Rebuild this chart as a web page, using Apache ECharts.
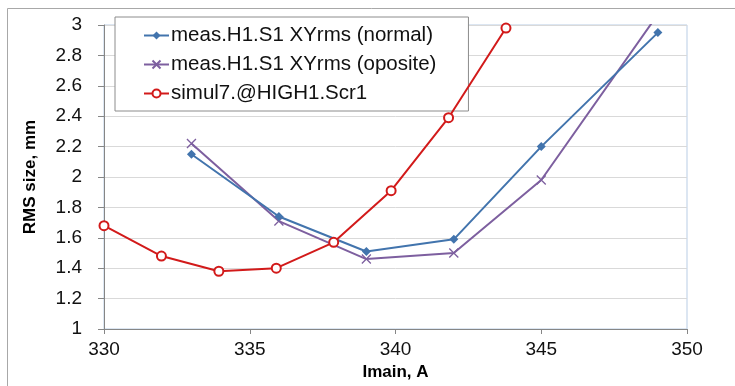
<!DOCTYPE html>
<html>
<head>
<meta charset="utf-8">
<script src="https://cdn.jsdelivr.net/npm/echarts@6/dist/echarts.min.js"></script>
<style>
  html, body { margin: 0; padding: 0; background: #ffffff; }
  #chart { width: 735px; height: 386px; }
</style>
</head>
<body>
<div id="chart"></div>
<script>
// Beam RMS size versus main magnet current
const currentMeas = [333, 336, 339, 342, 345, 349];
const rmsNormal   = [2.15, 1.74, 1.51, 1.59, 2.20, 2.95];
const rmsOpposite = [2.22, 1.71, 1.46, 1.50, 1.98, 3.07];

const currentSim = [330, 331.97, 333.94, 335.91, 337.88, 339.85, 341.82, 343.79];
const rmsSim     = [1.68, 1.48, 1.38, 1.40, 1.57, 1.91, 2.39, 2.98];

const seriesNames = [
  'meas.H1.S1 XYrms (normal)',
  'meas.H1.S1 XYrms (oposite)',
  'simul7.@HIGH1.Scr1'
];

const xTicks = { min: 330, max: 350, step: 5 };
const yTicks = { min: 1, max: 3, step: 0.2 };

const pairs = (xs, ys) => xs.map((x, i) => [x, ys[i]]);

const FONT = "'Liberation Sans', Arial, sans-serif";
const BLUE = '#4274AD';
const PURPLE = '#7D5F9F';
const RED = '#D21A1A';
const CROSS = 'path://M0,0L10,10M10,0L0,10';

const chart = echarts.init(document.getElementById('chart'), null, { renderer: 'canvas' });

chart.setOption({
  animation: false,
  backgroundColor: '#ffffff',
  graphic: [{
    type: 'rect',
    shape: { x: 7.5, y: 8.5, width: 900, height: 500 },
    style: { fill: 'none', stroke: '#A8A8A8', lineWidth: 1 },
    silent: true,
    z: -10
  }],
  grid: {
    left: 104, right: 48, top: 25, bottom: 48,
    show: true,
    borderColor: '#B9CDE5',
    borderWidth: 1,
    backgroundColor: 'transparent'
  },
  legend: {
    orient: 'vertical',
    left: 115, top: 17,
    padding: [8, 32, 7, 28],
    itemGap: 8,
    itemWidth: 25,
    itemHeight: 10,
    backgroundColor: '#ffffff',
    borderColor: '#8C8C8C',
    borderWidth: 1,
    textStyle: { fontFamily: FONT, fontSize: 20.5, color: '#111', padding: [0, 0, 0, -3] },
    data: seriesNames
  },
  xAxis: {
    type: 'value',
    min: xTicks.min, max: xTicks.max, interval: xTicks.step,
    name: 'Imain, A',
    nameLocation: 'middle',
    nameGap: 35,
    nameTextStyle: { fontFamily: FONT, fontSize: 17, fontWeight: 'bold', color: '#000' },
    axisLine: { show: true, onZero: false, lineStyle: { color: '#868686', width: 1 } },
    axisTick: { show: true, inside: false, length: 5, lineStyle: { color: '#868686' } },
    axisLabel: { margin: 11, fontFamily: FONT, fontSize: 19, color: '#111' },
    splitLine: { show: false }
  },
  yAxis: {
    type: 'value',
    min: yTicks.min, max: yTicks.max, interval: yTicks.step,
    name: 'RMS size, mm',
    nameLocation: 'middle',
    nameGap: 65,
    nameTextStyle: { fontFamily: FONT, fontSize: 17, fontWeight: 'bold', color: '#000' },
    axisLine: { show: true, onZero: false, lineStyle: { color: '#868686', width: 1 } },
    axisTick: { show: true, inside: false, length: 6, lineStyle: { color: '#868686' } },
    axisLabel: {
      margin: 22, fontFamily: FONT, fontSize: 19, color: '#111',
      formatter: v => String(+v.toFixed(1))
    },
    splitLine: { show: true, lineStyle: { color: '#D9D9D9', width: 1 } }
  },
  series: [
    {
      name: seriesNames[0],
      type: 'line',
      data: pairs(currentMeas, rmsNormal),
      symbol: 'diamond',
      symbolSize: 9,
      lineStyle: { color: BLUE, width: 2 },
      itemStyle: { color: BLUE },
      clip: true,
      z: 3
    },
    {
      name: seriesNames[1],
      type: 'line',
      data: pairs(currentMeas, rmsOpposite),
      symbol: CROSS,
      symbolSize: 9,
      lineStyle: { color: PURPLE, width: 2 },
      itemStyle: { color: PURPLE, borderColor: PURPLE, borderWidth: 1.3 },
      clip: true,
      z: 2
    },
    {
      name: seriesNames[2],
      type: 'line',
      data: pairs(currentSim, rmsSim),
      symbol: 'emptyCircle',
      symbolSize: 9,
      lineStyle: { color: RED, width: 2 },
      itemStyle: { color: RED, borderColor: RED, borderWidth: 1.3 },
      clip: true,
      z: 4
    }
  ]
});
</script>
</body>
</html>
